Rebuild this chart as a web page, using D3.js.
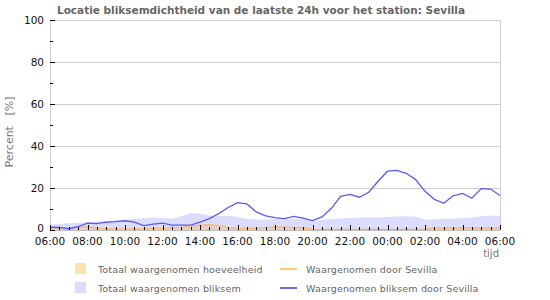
<!DOCTYPE html>
<html>
<head>
<meta charset="utf-8">
<script src="https://cdn.jsdelivr.net/npm/d3@7"></script>
<style>
  html, body { margin: 0; padding: 0; background: #fff; }
  svg { display: block; font-family: "DejaVu Sans", sans-serif; }
</style>
</head>
<body>
<svg id="chart" width="550" height="300"></svg>
<script>
// ---- data (30-minute steps from 06:00 to 06:00 next day) ----
const startTime = "06:00";
const stepMinutes = 30;
const blueLine = [1.3, 1.2, 0.6, 1.6, 3.3, 3.0, 3.7, 4.0, 4.4, 3.7, 2.1, 2.8, 3.3, 2.3, 2.3, 2.3,
  3.7, 5.4, 7.8, 10.7, 13.0, 12.4, 8.6, 6.7, 5.9, 5.4, 6.5, 5.7, 4.5, 6.2, 10.2, 16.0,
  17.0, 15.6, 18.0, 23.2, 28.0, 28.4, 27.0, 24.0, 18.4, 14.6, 12.7, 16.3, 17.4, 15.1, 19.7, 19.5, 16.4];
const lavenderArea = [2.6, 2.8, 3.3, 3.5, 3.7, 4.0, 4.2, 4.5, 4.9, 5.2, 5.7, 5.9, 5.7, 5.4, 6.5, 8.1,
  7.8, 6.8, 6.7, 6.8, 6.2, 5.4, 5.0, 4.9, 5.4, 5.4, 5.4, 5.4, 4.5, 4.8, 5.2, 5.5,
  5.7, 5.9, 5.9, 6.0, 6.2, 6.4, 6.5, 6.3, 5.0, 5.0, 5.4, 5.4, 5.7, 6.0, 6.5, 6.8, 6.8];
const orangeLine = [1.0, 1.0, 0.8, 1.2, 1.6, 1.0, 0.6, 0.6, 0.6, 0.6, 0.6, 0.8, 0.8, 1.0, 1.2, 2.0,
  2.3, 2.4, 2.2, 1.3, 0.8, 0.8, 0.9, 1.2, 1.5, 1.4, 1.3, 1.0, 0.4, 0.3, 0.3, 0.3,
  0.3, 0.3, 0.3, 0.3, 0.3, 0.3, 0.3, 0.3, 0.3, 1.0, 1.0, 1.0, 1.0, 1.0, 1.0, 1.0, 1.0];
const orangeArea = [1.0, 1.0, 0.8, 1.2, 1.6, 1.0, 0.6, 0.6, 0.6, 0.6, 0.6, 0.8, 0.8, 1.0, 1.2, 2.0,
  2.3, 2.4, 2.2, 1.3, 0.8, 0.8, 0.9, 1.2, 1.5, 1.4, 1.3, 1.0, 0.4, 0.3, 0.3, 0.3,
  0.3, 0.3, 0.3, 0.3, 0.3, 0.3, 0.3, 0.3, 0.3, 1.0, 1.0, 1.0, 1.0, 1.0, 1.0, 1.0, 1.0];
const yTicks = [0, 20, 40, 60, 80, 100];
const xTickLabels = ["06:00","08:00","10:00","12:00","14:00","16:00","18:00","20:00","22:00","00:00","02:00","04:00","06:00"];
const titleText = "Locatie bliksemdichtheid van de laatste 24h voor het station: Sevilla";
const yLabel = "Percent   [%]";
const xLabel = "tijd";
const legendItems = [
  {label: "Totaal waargenomen hoeveelheid", type: "box", color: "#fde3b0"},
  {label: "Totaal waargenomen bliksem", type: "box", color: "#dcdcff"},
  {label: "Waargenomen door Sevilla", type: "line", color: "#fbcb6a"},
  {label: "Waargenomen bliksem door Sevilla", type: "line", color: "#6a6af5"}
];

// ---- layout ----
const svg = d3.select("#chart");
const m = {left: 50, right: 50, top: 20, bottom: 70};
const W = 550, H = 300;
const x0 = m.left, x1 = W - m.right, y0 = H - m.bottom, y1 = m.top;

const t0 = new Date(2024, 0, 1, 6, 0);
const t1 = new Date(2024, 0, 2, 6, 0);
const times = blueLine.map((d, i) => new Date(+t0 + i * stepMinutes * 60000));
const x = d3.scaleTime().domain([t0, t1]).range([x0, x1]);
const y = d3.scaleLinear().domain([0, 100]).range([y0, y1]);

// title
svg.append("text").attr("x", 261).attr("y", 14).attr("text-anchor", "middle")
  .attr("font-size", 10.5).attr("font-weight", "bold").attr("fill", "#666").text(titleText);

// grid
svg.append("g").selectAll("line").data(yTicks.filter(d => d > 0)).join("line")
  .attr("x1", x0).attr("x2", x1).attr("y1", d => y(d) + 0.5).attr("y2", d => y(d) + 0.5)
  .attr("stroke", "#cfcfcf");
svg.append("line").attr("x1", x1 + 0.5).attr("x2", x1 + 0.5).attr("y1", y1).attr("y2", y0)
  .attr("stroke", "#cfcfcf");
svg.append("line").attr("x1", x0 + 0.5).attr("x2", x0 + 0.5).attr("y1", y1).attr("y2", y0)
  .attr("stroke", "#cfcfcf");

// areas
const area = arr => d3.area().x((d, i) => x(times[i])).y0(y(0)).y1(d => y(d))(arr);
const line = arr => d3.line().x((d, i) => x(times[i])).y(d => y(d))(arr);
svg.append("path").attr("d", area(lavenderArea)).attr("fill", "#dcdcff");
svg.append("path").attr("d", area(orangeArea)).attr("fill", "#e9c9b8").attr("fill-opacity", 0.8);
svg.append("path").attr("d", line(orangeLine)).attr("fill", "none").attr("stroke", "#f3b870").attr("stroke-width", 1.2);
svg.append("path").attr("d", line(blueLine)).attr("fill", "none").attr("stroke", "#5b5bf0").attr("stroke-width", 1.3);

// bottom axis
svg.append("line").attr("x1", x0).attr("x2", x1).attr("y1", y0 + 0.5).attr("y2", y0 + 0.5).attr("stroke", "#bbb");
const xMinor = d3.timeMinute.every(30).range(t0, +t1 + 1);
svg.append("g").selectAll("line").data(xMinor).join("line")
  .attr("x1", d => Math.round(x(d)) + 0.5).attr("x2", d => Math.round(x(d)) + 0.5)
  .attr("y1", y0).attr("y2", (d, i) => y0 - (i % 4 === 0 ? 5 : 3))
  .attr("stroke", "#000");
const xMajor = d3.timeHour.every(2).range(t0, +t1 + 1);
svg.append("g").selectAll("text").data(xMajor).join("text")
  .attr("x", d => x(d)).attr("y", y0 + 15).attr("text-anchor", "middle")
  .attr("font-size", 10.5).attr("fill", "#111").text((d, i) => xTickLabels[i]);
svg.append("text").attr("x", 499).attr("y", 257).attr("text-anchor", "end")
  .attr("font-size", 10).attr("fill", "#777").text(xLabel);

// left axis
const yMinor = d3.range(10, 100, 20);
svg.append("g").selectAll("line").data(yMinor).join("line")
  .attr("x1", x0).attr("x2", x0 + 3).attr("y1", d => y(d) + 0.5).attr("y2", d => y(d) + 0.5).attr("stroke", "#000");
svg.append("g").selectAll("line").data(yTicks).join("line")
  .attr("x1", x0).attr("x2", x0 + 5).attr("y1", d => y(d) + 0.5).attr("y2", d => y(d) + 0.5).attr("stroke", "#000");
svg.append("g").selectAll("text").data(yTicks).join("text")
  .attr("x", x0 - 6).attr("y", d => y(d) + (d === 0 ? 2 : 4)).attr("text-anchor", "end")
  .attr("font-size", 10.5).attr("fill", "#111").text(d => d);
svg.append("text").attr("transform", `translate(13,${(y0 + y1) / 2 + 7}) rotate(-90)`)
  .attr("text-anchor", "middle").attr("font-size", 11).attr("fill", "#777")
  .style("white-space", "pre").text(yLabel);

// legend
const lg = svg.append("g");
const pos = [[75, 263], [75, 282], [280, 263], [280, 282]];
legendItems.forEach((it, i) => {
  const [lx, ly] = pos[i];
  if (it.type === "box") {
    lg.append("rect").attr("x", lx).attr("y", ly).attr("width", 11).attr("height", 11).attr("fill", it.color);
  } else {
    lg.append("line").attr("x1", lx).attr("x2", lx + 17).attr("y1", ly + 6).attr("y2", ly + 6)
      .attr("stroke", it.color).attr("stroke-width", 2);
  }
  lg.append("text").attr("x", lx + (it.type === "box" ? 23 : 26)).attr("y", ly + 10)
    .attr("font-size", 9.5).attr("fill", "#666").attr("letter-spacing", 0.15).text(it.label);
});
</script>
</body>
</html>
